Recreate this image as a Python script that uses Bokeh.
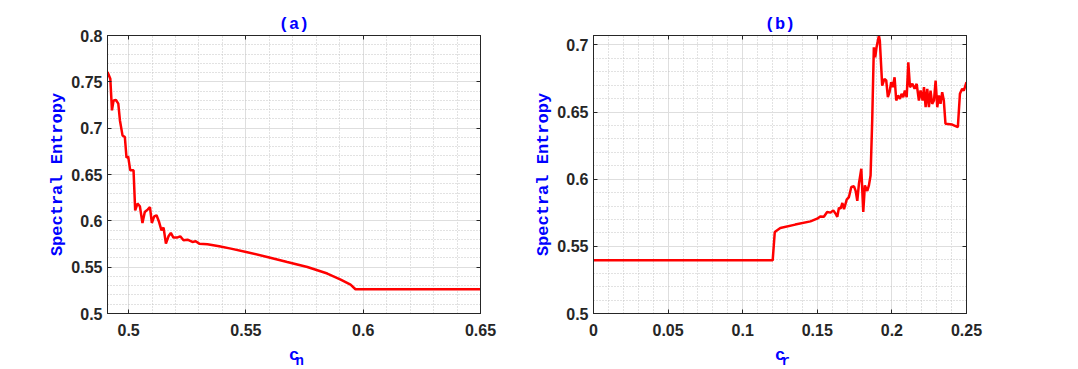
from bokeh.plotting import figure
from bokeh.layouts import row
from bokeh.models import (Range1d, SingleIntervalTicker, LinearAxis, Grid, Title,
                          CustomJSTickFormatter)
from bokeh.embed import file_html
from bokeh.resources import INLINE

# ---------------- data ----------------
cn = [0.4910, 0.4922, 0.4929, 0.4936, 0.4946, 0.4956, 0.4963, 0.4974, 0.4984,
      0.4991, 0.4998, 0.5007, 0.5021, 0.5028, 0.5038, 0.5048, 0.5059, 0.5069,
      0.5081, 0.5091, 0.5099, 0.5109, 0.5119, 0.5130, 0.5140, 0.5149, 0.5159,
      0.5170, 0.5180, 0.5191, 0.5206, 0.5220, 0.5234, 0.5251, 0.5272, 0.5286,
      0.5301, 0.5336, 0.5386, 0.5436, 0.5501, 0.5591, 0.5676, 0.5762, 0.5847,
      0.5904, 0.5946, 0.5967, 0.6500]
entropy_a = [0.7605, 0.7533, 0.7192, 0.7300, 0.7304, 0.7264, 0.7083, 0.6922,
             0.6904, 0.6681, 0.6695, 0.6545, 0.6545, 0.6113, 0.6186, 0.6157,
             0.5977, 0.6095, 0.6121, 0.6149, 0.5977, 0.6049, 0.6060, 0.5987,
             0.5898, 0.5927, 0.5754, 0.5833, 0.5869, 0.5819, 0.5819, 0.5833,
             0.5790, 0.5797, 0.5772, 0.5780, 0.5754, 0.5747, 0.5725, 0.5700,
             0.5664, 0.5610, 0.5556, 0.5502, 0.5431, 0.5366, 0.5312, 0.5262,
             0.5262]

cr = [0.0, 0.1201, 0.1215, 0.1252, 0.1352, 0.1454, 0.1499, 0.1520, 0.1544,
      0.1566, 0.1589, 0.1607, 0.1623, 0.1634, 0.1645, 0.1656, 0.1668, 0.1679,
      0.1697, 0.1712, 0.1728, 0.1746, 0.1757, 0.1768, 0.1779, 0.1795, 0.1808,
      0.1819, 0.1835, 0.1846, 0.1857, 0.1868, 0.1879, 0.1888, 0.1897, 0.1913,
      0.1919, 0.1935, 0.1950, 0.1962, 0.1973, 0.1984, 0.1995, 0.2006, 0.2018,
      0.2029, 0.2040, 0.2054, 0.2065, 0.2076, 0.2087, 0.2099, 0.2110, 0.2121,
      0.2137, 0.2152, 0.2166, 0.2181, 0.2192, 0.2206, 0.2215, 0.2226, 0.2237,
      0.2248, 0.2259, 0.2270, 0.2282, 0.2293, 0.2304, 0.2315, 0.2326, 0.2337,
      0.2348, 0.2359, 0.2404, 0.2442, 0.2456, 0.2471, 0.2482, 0.2500]
entropy_b = [0.5396, 0.5396, 0.5607, 0.5636, 0.5662, 0.5686, 0.5706, 0.5723,
             0.5720, 0.5756, 0.5751, 0.5768, 0.5743, 0.5720, 0.5788, 0.5780,
             0.5823, 0.5776, 0.5848, 0.5867, 0.5942, 0.5947, 0.5913, 0.5839,
             0.5966, 0.6078, 0.5756, 0.5954, 0.5913, 0.5954, 0.6028, 0.6437,
             0.6982, 0.6908, 0.6982, 0.7069, 0.7032, 0.6697, 0.6747, 0.6735,
             0.6611, 0.6648, 0.6722, 0.6685, 0.6759, 0.6586, 0.6623, 0.6599,
             0.6636, 0.6611, 0.6660, 0.6611, 0.6871, 0.6685, 0.6710, 0.6673,
             0.6710, 0.6586, 0.6660, 0.6586, 0.6685, 0.6536, 0.6673, 0.6536,
             0.6660, 0.6561, 0.6586, 0.6735, 0.6536, 0.6623, 0.6561, 0.6648,
             0.6586, 0.6413, 0.6407, 0.6388, 0.6636, 0.6673, 0.6660, 0.6722]

titles = ["(a)", "(b)"]
ylabel = "Spectral Entropy"
xlabel_main = "c"
xlabel_subs = ["n", "r"]

TICK_COLOR = "#262626"
fmt = CustomJSTickFormatter(code="return parseFloat(tick.toFixed(4)).toString();")
blank = CustomJSTickFormatter(code="return '';")


def make_fig(xs, ys, xr, yr, title, sub, border_left, border_right, border_top):
    p = figure(x_range=Range1d(*xr), y_range=Range1d(*yr),
               frame_width=373, frame_height=278,
               min_border_left=border_left, min_border_right=border_right,
               min_border_top=border_top, min_border_bottom=56,
               output_backend="svg", toolbar_location=None,
               x_axis_type=None, y_axis_type=None)
    p.title.text = title
    p.title.align = "center"
    p.title.text_font = "Liberation Mono"
    p.title.text_font_style = "bold"
    p.title.text_font_size = "17px"
    p.title.text_color = "blue"
    p.title.standoff = 4

    for place in ("below", "left", "above", "right"):
        ax = LinearAxis(ticker=SingleIntervalTicker(interval=0.05, num_minor_ticks=5))
        ax.major_tick_in = 4
        ax.major_tick_out = 0
        ax.minor_tick_in = 0
        ax.minor_tick_out = 0
        ax.axis_line_color = TICK_COLOR
        ax.major_tick_line_color = TICK_COLOR
        if place in ("below", "left"):
            ax.formatter = fmt
            ax.major_label_text_font = "Liberation Sans"
            ax.major_label_text_font_style = "bold"
            ax.major_label_text_font_size = "16px"
            ax.major_label_text_color = TICK_COLOR
            ax.axis_label_text_font = "Liberation Mono"
            ax.axis_label_text_font_style = "bold"
            ax.axis_label_text_font_size = "17px"
            ax.axis_label_text_color = "blue"
            if place == "left":
                ax.major_label_standoff = 5
                ax.axis_label = ylabel
                ax.axis_label_standoff = 1
            else:
                ax.major_label_standoff = 10
                ax.axis_label = xlabel_main
                ax.axis_label_standoff = 7
        else:
            ax.formatter = blank
            ax.major_label_text_font_size = "0px"
            ax.major_label_standoff = 0
        p.add_layout(ax, place)
        if place == "below":
            p.add_layout(Grid(dimension=0, ticker=ax.ticker), "center")
        if place == "left":
            p.add_layout(Grid(dimension=1, ticker=ax.ticker), "center")

    for g in p.grid:
        g.grid_line_color = "#dedede"
        g.grid_line_width = 1
        g.minor_grid_line_color = "#c4c4c4"
        g.minor_grid_line_dash = "1 2"
        g.minor_grid_line_width = 1

    p.outline_line_color = TICK_COLOR
    p.background_fill_color = "white"
    p.border_fill_color = "white"

    p.line(xs, ys, line_color="#ff0000", line_width=2.5)

    # subscript of the x-axis label
    p.add_layout(Title(text=sub, align="left", offset=188, standoff=-29,
                       vertical_align="top",
                       text_font="Liberation Mono", text_font_style="bold",
                       text_font_size="14px", text_color="blue"), "below")
    return p


p1 = make_fig(cn, entropy_a, (0.491, 0.65), (0.5, 0.8), titles[0], xlabel_subs[0], 107, 40, 35)
p2 = make_fig(cr, entropy_b, (0.0, 0.25), (0.5, 0.707), titles[1], xlabel_subs[1], 73, 40, 35)

layout = row(p1, p2)
open("out.html", "w").write(file_html(layout, INLINE))
